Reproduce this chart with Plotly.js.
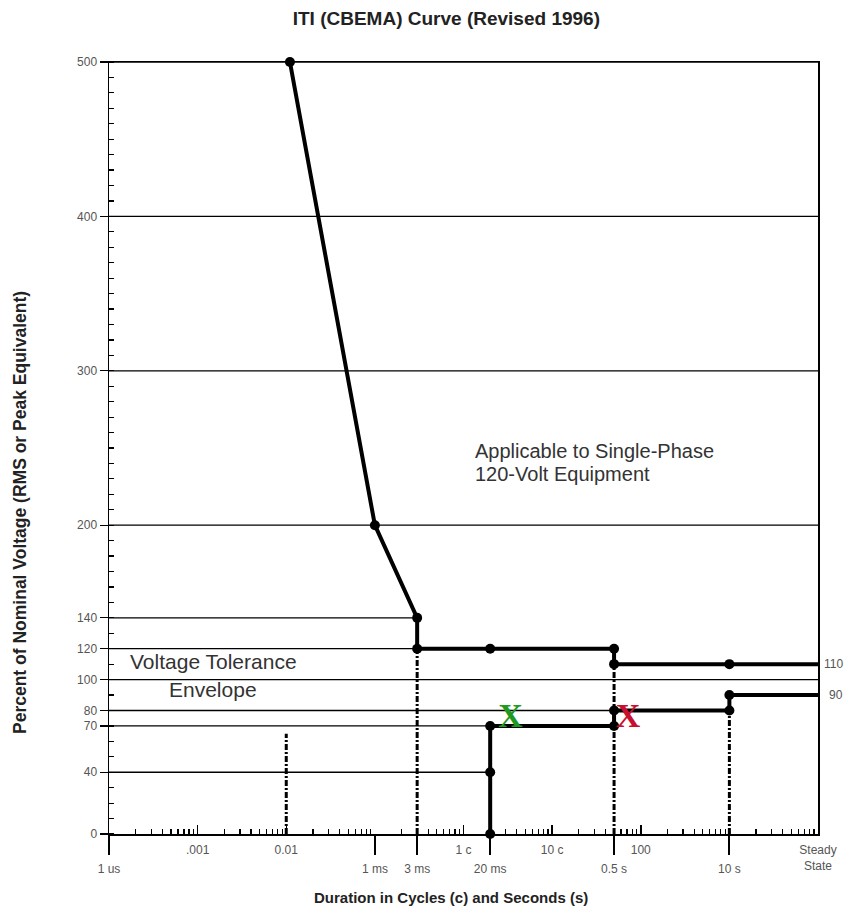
<!DOCTYPE html>
<html>
<head>
<meta charset="utf-8">
<script src="https://cdn.plot.ly/plotly-3.0.1.min.js"></script>
<style>html,body{margin:0;padding:0;background:#fff;}#chart{width:847px;height:909px;}</style>
</head>
<body>
<div id="chart"></div>
<script>
// ---- data (x in cycles, log scale; y in percent of nominal voltage) ----
const cycleTickVals = [1e-3, 1e-2, 1, 10, 100, 1e4];
const cycleTickText = ['.001', '0.01', '1 c', '10 c', '100', 'Steady<br>State'];
const timeTickVals = [1e-4, 0.1, 0.3, 2, 50, 1000];
const timeTickText = ['1 us', '1 ms', '3 ms', '20 ms', '0.5 s', '10 s'];
const yTickVals = [0, 40, 70, 80, 100, 120, 140, 200, 300, 400, 500];

const upperX = [0.011, 0.1, 0.3, 0.3, 2, 50, 50, 1000, 1e4];
const upperY = [500, 200, 140, 120, 120, 120, 110, 110, 110];
const lowerX = [2, 2, 2, 50, 50, 1000, 1000, 1e4];
const lowerY = [0, 40, 70, 70, 80, 80, 90, 90];

const refLevels = [500, 400, 300, 200, 140, 120, 100, 80, 70, 40];
const refEnds   = [1e4, 1e4, 1e4, 1e4, 0.3, 0.3, 1e4, 50, 2, 2];
const refStart = 1e-4;

const dropX   = [0.01, 0.3, 50, 1000];
const dropTop = [65, 120, 110, 80];

const markX = [3.4, 72];
const markY = [75, 75];
const markColors = ['#1e9a1e', '#c8102e'];

const endLabels = ['110', '90'];

// ---- build traces ----
const refX = [], refY = [];
refLevels.forEach((lv, i) => { refX.push(refStart, refEnds[i], null); refY.push(lv, lv, null); });
const dX = [], dY = [];
dropX.forEach((x, i) => { dX.push(x, x, null); dY.push(0, dropTop[i], null); });

const minorVals = [];
for (let e = -4; e < 4; e++) for (let m = 2; m <= 9; m++) minorVals.push(m * Math.pow(10, e));

const traces = [
  {x: refX, y: refY, mode: 'lines', line: {color: '#000', width: 1.3}, hoverinfo: 'skip', cliponaxis: false},
  {x: dX, y: dY, mode: 'lines', line: {color: '#000', width: 3, dash: '6px,2px,2px,2px'}, hoverinfo: 'skip'},
  {x: upperX, y: upperY, mode: 'lines', line: {color: '#000', width: 4}, cliponaxis: false},
  {x: lowerX, y: lowerY, mode: 'lines', line: {color: '#000', width: 4}, cliponaxis: false},
  {x: upperX.slice(0, -1), y: upperY.slice(0, -1), mode: 'markers', marker: {color: '#000', size: 10}, cliponaxis: false},
  {x: lowerX.slice(0, -1), y: lowerY.slice(0, -1), mode: 'markers', marker: {color: '#000', size: 10}, cliponaxis: false},
  {x: markX, y: markY, mode: 'text', text: markX.map(() => '<b>X</b>'),
   textfont: {family: 'Liberation Serif, DejaVu Serif, serif', size: 34, color: markColors}, textposition: 'middle center', cliponaxis: false},
  {x: [1e-4, 1e4], y: [0, 0], xaxis: 'x2', mode: 'none', hoverinfo: 'skip'}
];

const tickFont = {family: 'Liberation Sans, Arial, sans-serif', size: 12, color: '#555'};
const px = v => (v - 109) / 709;
const py = v => (834 - v) / 772;

const layout = {
  width: 847, height: 909,
  margin: {l: 109, r: 29, t: 62, b: 75},
  paper_bgcolor: '#fff', plot_bgcolor: '#fff',
  showlegend: false,
  font: {family: 'Liberation Sans, Arial, sans-serif', color: '#222'},
  title: {text: '<b>ITI (CBEMA) Curve (Revised 1996)</b>', x: 0.527, xanchor: 'center', y: 0.980, yref: 'container', yanchor: 'middle',
          font: {size: 19, color: '#222'}},
  xaxis: {
    type: 'log', range: [-4, 4], showgrid: false, zeroline: false,
    showline: true, linecolor: '#000', linewidth: 1.5, mirror: true,
    tickmode: 'array', tickvals: cycleTickVals, ticktext: cycleTickText,
    ticks: 'inside', ticklen: 9, tickwidth: 1.5, tickcolor: '#000',
    tickfont: tickFont, ticklabelstandoff: 4,
    minor: {tickmode: 'array', tickvals: minorVals, ticks: 'inside', ticklen: 5, tickwidth: 1.2, tickcolor: '#000', showgrid: false}
  },
  xaxis2: {
    type: 'log', range: [-4, 4], overlaying: 'x', anchor: 'y', side: 'bottom',
    showgrid: false, zeroline: false, showline: false,
    tickmode: 'array', tickvals: timeTickVals, ticktext: timeTickText,
    ticks: 'outside', ticklen: 20, tickwidth: 2, tickcolor: '#000',
    tickfont: tickFont, ticklabelstandoff: 4
  },
  yaxis: {
    range: [0, 500], showgrid: false, zeroline: false,
    showline: true, linecolor: '#000', linewidth: 1.5, mirror: true,
    tickmode: 'array', tickvals: yTickVals,
    ticks: 'outside', ticklen: 8, tickwidth: 1.3, tickcolor: '#000',
    tickfont: tickFont,
    minor: {tickmode: 'linear', tick0: 0, dtick: 10, ticks: 'inside', ticklen: 5, tickwidth: 1.2, tickcolor: '#000', showgrid: false}
  },
  annotations: [
    {xref: 'paper', yref: 'paper', x: px(473), y: py(451), xanchor: 'left', yanchor: 'middle', showarrow: false,
     text: 'Applicable to Single-Phase', font: {size: 20, color: '#333'}},
    {xref: 'paper', yref: 'paper', x: px(473), y: py(474), xanchor: 'left', yanchor: 'middle', showarrow: false,
     text: '120-Volt Equipment', font: {size: 20, color: '#333'}},
    {xref: 'paper', yref: 'paper', x: px(213), y: py(661), xanchor: 'center', yanchor: 'middle', showarrow: false,
     text: 'Voltage Tolerance', font: {size: 21, color: '#333'}},
    {xref: 'paper', yref: 'paper', x: px(213), y: py(689), xanchor: 'center', yanchor: 'middle', showarrow: false,
     text: 'Envelope', font: {size: 21, color: '#333'}},
    {xref: 'paper', yref: 'y', x: 1.006, y: upperY[upperY.length - 1], xanchor: 'left', yanchor: 'middle', showarrow: false,
     text: endLabels[0], font: {size: 12, color: '#555'}},
    {xref: 'paper', yref: 'y', x: 1.013, y: lowerY[lowerY.length - 1], xanchor: 'left', yanchor: 'middle', showarrow: false,
     text: endLabels[1], font: {size: 12, color: '#555'}},
    {xref: 'paper', yref: 'paper', x: px(451), y: py(897), xanchor: 'center', yanchor: 'middle', showarrow: false,
     text: '<b>Duration in Cycles (c) and Seconds (s)</b>', font: {size: 15, color: '#222'}},
    {xref: 'paper', yref: 'paper', x: px(20), y: py(513), xanchor: 'center', yanchor: 'middle', showarrow: false,
     textangle: -90, text: '<b>Percent of Nominal Voltage (RMS or Peak Equivalent)</b>', font: {size: 17.5, color: '#222'}}
  ]
};

Plotly.newPlot('chart', traces, layout, {displayModeBar: false, staticPlot: true});
</script>
</body>
</html>
